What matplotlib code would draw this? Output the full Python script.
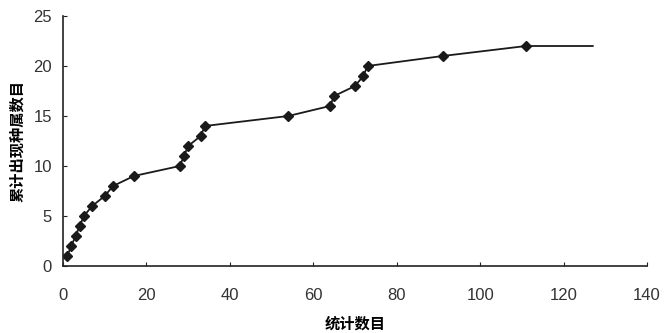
import matplotlib
matplotlib.use("Agg")
import matplotlib.pyplot as plt

plt.rcParams['font.family'] = ['Noto Sans CJK SC', 'DejaVu Sans']

# 统计数目 vs 累计出现种属数目
sample_count = [1, 2, 3, 4, 5, 7, 10, 12, 17, 28, 29, 30, 33, 34,
                54, 64, 65, 70, 72, 73, 91, 111, 127]
genus_total = [1, 2, 3, 4, 5, 6, 7, 8, 9, 10, 11, 12, 13, 14,
               15, 16, 17, 18, 19, 20, 21, 22, 22]
x_ticks = [0, 20, 40, 60, 80, 100, 120, 140]
y_ticks = [0, 5, 10, 15, 20, 25]

fig = plt.figure(figsize=(6.67, 3.33), dpi=100)
ax = fig.add_axes([63/667, 1 - 266/333, 584/667, 250/333])

ax.plot(sample_count, genus_total, color='#1a1a1a', lw=1.3)
# last point has no marker
ax.plot(sample_count[:-1], genus_total[:-1], ls='none', marker='D',
        ms=5, color='#1a1a1a')

ax.set_xlim(0, 140)
ax.set_ylim(0, 25)
ax.set_xticks(x_ticks)
ax.set_yticks(y_ticks)
ax.spines['top'].set_visible(False)
ax.spines['right'].set_visible(False)
for s in ('left', 'bottom'):
    ax.spines[s].set_linewidth(1.2)
    ax.spines[s].set_color('#222222')
ax.tick_params(direction='in', length=3, width=0.8, colors='#222222',
               labelsize=12, labelcolor='#333333')
ax.tick_params(axis='x', pad=16)
ax.tick_params(axis='y', pad=8)
for lab in ax.get_xticklabels() + ax.get_yticklabels():
    lab.set_family('Liberation Sans')

ax.set_xlabel('统计数目', fontsize=11, fontweight='bold', labelpad=9)
ax.set_ylabel('累计出现种属数目', fontsize=11, fontweight='bold', labelpad=6)

fig.savefig('out.png', dpi=100, facecolor='white')
